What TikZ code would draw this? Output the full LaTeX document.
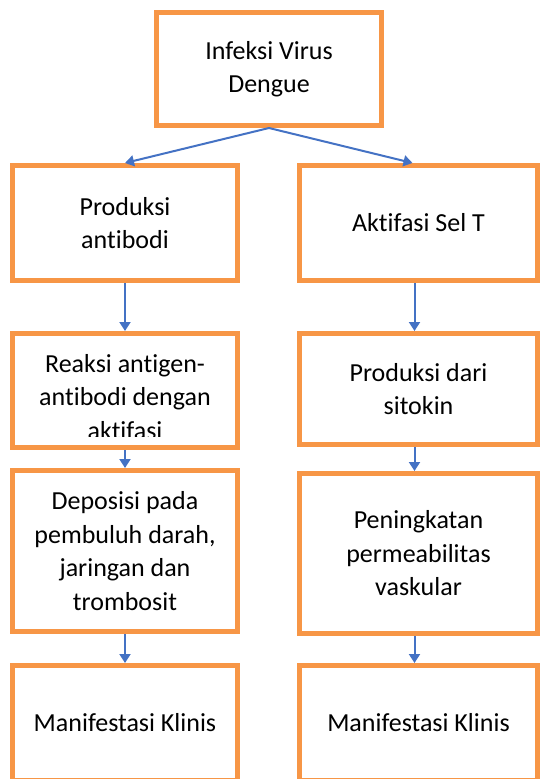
\documentclass[tikz,border=0pt]{standalone}
\usepackage{fontspec}
\setmainfont{Carlito}[Ligatures={NoCommon}]
\usepackage{xcolor}
\usetikzlibrary{arrows.meta}

\definecolor{boxorange}{RGB}{247,150,70}
\definecolor{arrowblue}{RGB}{68,114,196}

\begin{document}
\begin{tikzpicture}[x=1pt,y=-1pt,
    box/.style={draw=boxorange,line width=5pt,fill=white,align=center,
        font=\fontsize{26}{33.5}\selectfont},
    arr/.style={draw=arrowblue,line width=2pt,-{Triangle[width=11pt,length=9pt]}}]
    \useasboundingbox (0,0) rectangle (540,779);
    \clip (0,0) rectangle (540,779);

    \node[box,minimum width=225pt,minimum height=113pt] (infeksi) at (269,69) {Infeksi Virus\\Dengue};

    % left column
    \node[box,minimum width=225pt,minimum height=115pt] (antibodi) at (125,223) {Produksi\\antibodi};
    \node[box,minimum width=225pt,minimum height=114pt] (reaksi) at (125,390.5) {};
    \begin{scope}
        \clip (15,336) rectangle (235,436);
        \node[align=center,font=\fontsize{26}{33.5}\selectfont] (reaksitext) at (125,397) {Reaksi antigen-\\antibodi dengan\\aktifasi};
    \end{scope}
    \node[box,minimum width=225pt,minimum height=161pt] (deposisi) at (125,551) {Deposisi pada\\pembuluh darah,\\jaringan dan\\trombosit};
    \node[box,minimum width=225pt,minimum height=115pt] (klinisa) at (125,723) {Manifestasi Klinis};

    % right column
    \node[box,minimum width=238pt,minimum height=115pt] (aktifasi) at (418.5,223) {Aktifasi Sel T};
    \node[box,minimum width=238pt,minimum height=111pt] (sitokin) at (418.5,389) {Produksi dari\\sitokin};
    \node[box,minimum width=238pt,minimum height=160pt] (vaskular) at (418.5,553.5) {Peningkatan\\permeabilitas\\vaskular};
    \node[box,minimum width=238pt,minimum height=115pt] (klinisb) at (418.5,723) {Manifestasi Klinis};

    \draw[arr] (infeksi.south) -- (antibodi.north);
    \draw[arr] (infeksi.south) -- ([xshift=-6pt]aktifasi.north);
    \draw[arr] (antibodi) -- (reaksi);
    \draw[arr] (reaksi) -- (deposisi);
    \draw[arr] (deposisi) -- (klinisa);
    \draw[arr] ([xshift=-4pt]aktifasi.south) -- ([xshift=-4pt]sitokin.north);
    \draw[arr] ([xshift=-4pt]sitokin.south) -- ([xshift=-4pt]vaskular.north);
    \draw[arr] ([xshift=-4pt]vaskular.south) -- ([xshift=-4pt]klinisb.north);
\end{tikzpicture}
\end{document}
